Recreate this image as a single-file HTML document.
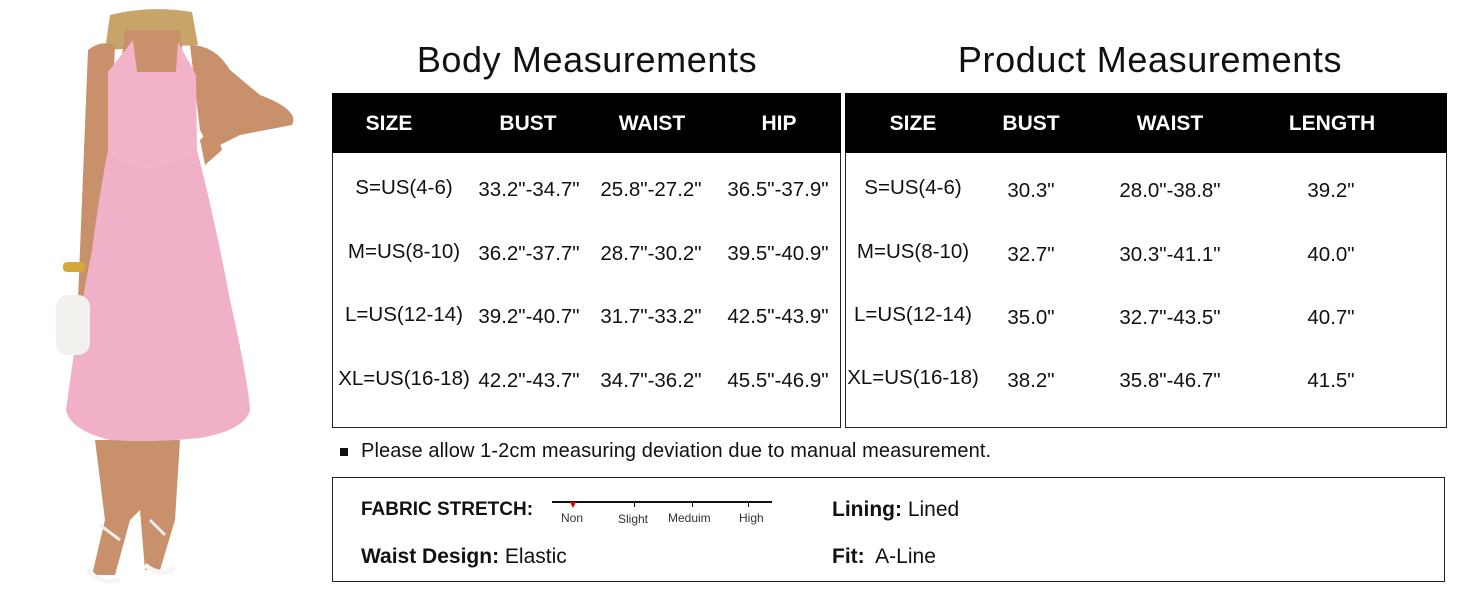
<!DOCTYPE html>
<html><head><style>
body{margin:0;width:1464px;height:600px;background:#fff;position:relative;overflow:hidden;font-family:"Liberation Sans",sans-serif;color:#111}
.t{position:absolute;white-space:nowrap;transform:translate(-50%,-50%)}
.h{font-size:36px;font-weight:500;letter-spacing:0.6px}
.hd{color:#fff;font-size:21px;font-weight:bold}
.c{font-size:20.5px}
.box{position:absolute;border:1.5px solid #222;box-sizing:border-box}
</style></head><body>
<svg style="position:absolute;left:0;top:0" width="330" height="600">
<path d="M110 15 Q150 5 192 12 L198 45 L105 50Z" fill="#c9a46a"/>
<path d="M125 30 L180 30 L185 75 L120 75Z" fill="#c8916c"/>
<path d="M88 50 Q100 40 115 45 L112 120 L108 200 L100 270 L95 300 L78 300 L80 250 L84 150Z" fill="#c8916c"/>
<path d="M190 45 Q215 45 230 70 L260 95 Q300 110 292 125 L240 135 L210 150 L200 130Z" fill="#c8916c"/>
<path d="M200 140 L215 125 L222 150 L205 165Z" fill="#c8916c"/>
<path d="M95 440 L180 440 L175 520 L160 570 L145 570 L140 510 L130 520 L115 575 L92 575 L105 520Z" fill="#c8916c"/>
<path d="M108 72 L133 40 L137 72 L176 72 L178 42 L196 75 L197 150 L180 160 L150 168 L120 160 L108 150Z" fill="#f2b3c9"/>
<path d="M108 150 L120 160 L150 168 L180 160 L197 150 Q215 220 230 300 Q248 380 250 410 Q245 430 200 438 Q150 443 110 440 Q70 430 66 410 Q78 320 92 250 Q100 190 108 150Z" fill="#f0b1c8"/>
<rect x="56" y="295" width="34" height="60" rx="12" fill="#f3f1ee"/>
<rect x="63" y="262" width="22" height="10" rx="4" fill="#d4a93a"/>
<path d="M100 525 L120 540 M150 520 L165 535" stroke="#eee" stroke-width="3"/>
<path d="M88 570 Q100 585 120 580 M145 565 Q160 578 175 568" stroke="#f5f5f5" stroke-width="5" fill="none"/>
</svg>

<div class="t h" style="left:587px;top:60px">Body Measurements</div>
<div class="t h" style="left:1150px;top:60px">Product Measurements</div>

<div class="box" style="left:332px;top:93px;width:509px;height:335px"></div>
<div style="position:absolute;left:332px;top:93px;width:509px;height:60px;background:#000"></div>
<div class="box" style="left:845px;top:93px;width:602px;height:335px"></div>
<div style="position:absolute;left:845px;top:93px;width:602px;height:60px;background:#000"></div>

<div class="t hd" style="left:389px;top:124px">SIZE</div>
<div class="t hd" style="left:528px;top:124px">BUST</div>
<div class="t hd" style="left:652px;top:124px">WAIST</div>
<div class="t hd" style="left:779px;top:124px">HIP</div>
<div class="t hd" style="left:913px;top:124px">SIZE</div>
<div class="t hd" style="left:1031px;top:124px">BUST</div>
<div class="t hd" style="left:1170px;top:124px">WAIST</div>
<div class="t hd" style="left:1332px;top:124px">LENGTH</div>

<div class="t c" style="left:404px;top:188px">S=US(4-6)</div>
<div class="t c" style="left:529px;top:190px">33.2"-34.7"</div>
<div class="t c" style="left:651px;top:190px">25.8"-27.2"</div>
<div class="t c" style="left:778px;top:190px">36.5"-37.9"</div>
<div class="t c" style="left:404px;top:252px">M=US(8-10)</div>
<div class="t c" style="left:529px;top:254px">36.2"-37.7"</div>
<div class="t c" style="left:651px;top:254px">28.7"-30.2"</div>
<div class="t c" style="left:778px;top:254px">39.5"-40.9"</div>
<div class="t c" style="left:404px;top:315px">L=US(12-14)</div>
<div class="t c" style="left:529px;top:317px">39.2"-40.7"</div>
<div class="t c" style="left:651px;top:317px">31.7"-33.2"</div>
<div class="t c" style="left:778px;top:317px">42.5"-43.9"</div>
<div class="t c" style="left:404px;top:379px">XL=US(16-18)</div>
<div class="t c" style="left:529px;top:381px">42.2"-43.7"</div>
<div class="t c" style="left:651px;top:381px">34.7"-36.2"</div>
<div class="t c" style="left:778px;top:381px">45.5"-46.9"</div>

<div class="t c" style="left:913px;top:188px">S=US(4-6)</div>
<div class="t c" style="left:1031px;top:191px">30.3"</div>
<div class="t c" style="left:1170px;top:191px">28.0"-38.8"</div>
<div class="t c" style="left:1331px;top:191px">39.2"</div>
<div class="t c" style="left:913px;top:252px">M=US(8-10)</div>
<div class="t c" style="left:1031px;top:255px">32.7"</div>
<div class="t c" style="left:1170px;top:255px">30.3"-41.1"</div>
<div class="t c" style="left:1331px;top:255px">40.0"</div>
<div class="t c" style="left:913px;top:315px">L=US(12-14)</div>
<div class="t c" style="left:1031px;top:318px">35.0"</div>
<div class="t c" style="left:1170px;top:318px">32.7"-43.5"</div>
<div class="t c" style="left:1331px;top:318px">40.7"</div>
<div class="t c" style="left:913px;top:378px">XL=US(16-18)</div>
<div class="t c" style="left:1031px;top:381px">38.2"</div>
<div class="t c" style="left:1170px;top:381px">35.8"-46.7"</div>
<div class="t c" style="left:1331px;top:381px">41.5"</div>

<div style="position:absolute;left:340px;top:448px;width:8px;height:8px;background:#111"></div>
<div style="position:absolute;left:361px;top:440px;font-size:20px;letter-spacing:0.1px">Please allow 1-2cm measuring deviation due to manual measurement.</div>

<div class="box" style="left:332px;top:477px;width:1113px;height:105px"></div>
<div style="position:absolute;left:361px;top:499px;font-size:19px;font-weight:bold">FABRIC STRETCH:</div>
<div style="position:absolute;left:552px;top:501px;width:220px;height:2px;background:#111"></div>
<div style="position:absolute;left:634px;top:501px;width:1px;height:6px;background:#111"></div>
<div style="position:absolute;left:692px;top:501px;width:1px;height:6px;background:#111"></div>
<div style="position:absolute;left:748px;top:501px;width:1px;height:6px;background:#111"></div>
<div style="position:absolute;left:570px;top:502px;width:0;height:0;border-left:3px solid transparent;border-right:3px solid transparent;border-top:6px solid #d00"></div>
<div style="position:absolute;left:561px;top:511px;font-size:12px;color:#333">Non</div>
<div style="position:absolute;left:618px;top:512px;font-size:12px;color:#333">Slight</div>
<div style="position:absolute;left:668px;top:511px;font-size:12px;color:#333">Meduim</div>
<div style="position:absolute;left:739px;top:511px;font-size:12px;color:#333">High</div>
<div style="position:absolute;left:361px;top:545px;font-size:21px"><b>Waist Design:</b> Elastic</div>
<div style="position:absolute;left:832px;top:498px;font-size:21px"><b>Lining:</b> Lined</div>
<div style="position:absolute;left:832px;top:545px;font-size:21px"><b>Fit:</b>&nbsp; A-Line</div>
</body></html>
